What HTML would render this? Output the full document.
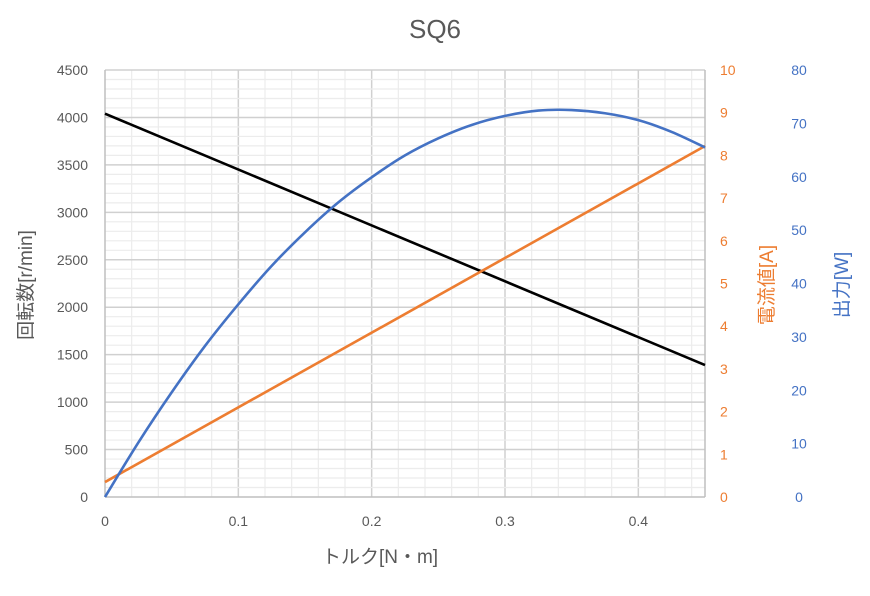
<!DOCTYPE html>
<html><head><meta charset="utf-8"><style>
body{margin:0;background:#fff;font-family:"Liberation Sans","Noto Sans CJK JP",sans-serif}
</style></head><body>
<svg id="c" width="870" height="591" xmlns="http://www.w3.org/2000/svg">
<text x="435" y="38" font-size="26" fill="#595959" text-anchor="middle">SQ6</text>
<g id="grid"></g><g id="axes"></g><g id="series"></g>
<text x="380" y="563" font-size="19" fill="#595959" text-anchor="middle">トルク[N・m]</text>
<text transform="translate(32,285) rotate(-90)" font-size="19" fill="#595959" text-anchor="middle">回転数[r/min]</text>
<text transform="translate(773,285) rotate(-90)" font-size="19" fill="#ED7D31" text-anchor="middle">電流値[A]</text>
<text transform="translate(848,285) rotate(-90)" font-size="19" fill="#4472C4" text-anchor="middle">出力[W]</text>
</svg>
<script>
const torque=[0,0.025,0.05,0.075,0.1,0.125,0.15,0.175,0.2,0.225,0.25,0.275,0.3,0.325,0.35,0.375,0.4,0.425,0.45];
const speedT=[0,0.45];
const speedV=[4040,1390];
const currentT=[0,0.45];
const currentV=[0.35,8.22];
const powerV=[0,10.2,19.6,28.3,36.1,43.3,49.6,55.2,59.9,64.0,67.2,69.7,71.4,72.4,72.5,71.9,70.6,68.4,65.5];
const xTicks=["0","0.1","0.2","0.3","0.4"];
const ySpeedTicks=[0,500,1000,1500,2000,2500,3000,3500,4000,4500];
const yCurTicks=[0,1,2,3,4,5,6,7,8,9,10];
const yPowTicks=[0,10,20,30,40,50,60,70,80];
const L=105,R=705,T=70,B=497;
const X=v=>L+v/0.45*(R-L);
const YS=v=>B-v/4500*(B-T);
const YC=v=>B-v/10*(B-T);
const YP=v=>B-v/80*(B-T);
const NS="http://www.w3.org/2000/svg";
function mk(p,tag,a){const e=document.createElementNS(NS,tag);for(const k in a)e.setAttribute(k,a[k]);p.appendChild(e);return e;}
const g=document.getElementById('grid'),ax=document.getElementById('axes'),s=document.getElementById('series');
for(let i=1;i<=22;i++){const x=X(i*0.02);if(x>R+0.5)break;
const l=mk(g,'line',{x1:x,x2:x,y1:T,y2:B,stroke:i%5==0?'#d0d0d0':'#ececec','stroke-width':i%5==0?1.5:1.2});

}
for(let i=1;i<=45;i++){const y=YS(i*100);
const l=mk(g,'line',{x1:L,x2:R,y1:y,y2:y,stroke:i%5==0?'#d0d0d0':'#ececec','stroke-width':i%5==0?1.5:1.2});

}
const xa=mk(ax,'line',{x1:L,x2:R,y1:B,y2:B,stroke:'#bfbfbf','stroke-width':1.5});

const ya=mk(ax,'line',{x1:L,x2:L,y1:T,y2:B,stroke:'#bfbfbf','stroke-width':1.5});

const ra=mk(ax,'line',{x1:R,x2:R,y1:T,y2:B,stroke:'#bfbfbf','stroke-width':1.5});

xTicks.forEach(t=>{const e=mk(ax,'text',{x:X(+t),y:B+29,'font-size':14,fill:'#595959','text-anchor':'middle'});e.textContent=t;
});
ySpeedTicks.forEach(t=>{const e=mk(ax,'text',{x:L-17,y:YS(t)+5,'font-size':14,fill:'#595959','text-anchor':'end'});e.textContent=t;
});
yCurTicks.forEach(t=>{const e=mk(ax,'text',{x:720,y:YC(t)+5,'font-size':14,fill:'#ED7D31','text-anchor':'start'});e.textContent=t;
});
yPowTicks.forEach(t=>{const e=mk(ax,'text',{x:799,y:YP(t)+5,'font-size':14,fill:'#4472C4','text-anchor':'middle'});e.textContent=t;
});
function line(xs,ys,fx,fy,col,name){const p=mk(s,'polyline',{points:xs.map((v,i)=>fx(v)+','+fy(ys[i])).join(' '),fill:'none',stroke:col,'stroke-width':2.6,'stroke-linejoin':'round'});
}
line(speedT,speedV,X,YS,'#000','speed-line');
line(currentT,currentV,X,YC,'#ED7D31','current-line');
// smooth power curve via Catmull-Rom
(function(){const pts=torque.map((t,i)=>[X(t),YP(powerV[i])]);let d='M'+pts[0];
for(let i=0;i<pts.length-1;i++){const p0=pts[Math.max(0,i-1)],p1=pts[i],p2=pts[i+1],p3=pts[Math.min(pts.length-1,i+2)];
d+=' C'+(p1[0]+(p2[0]-p0[0])/6)+','+(p1[1]+(p2[1]-p0[1])/6)+' '+(p2[0]-(p3[0]-p1[0])/6)+','+(p2[1]-(p3[1]-p1[1])/6)+' '+p2;}
const p=mk(s,'path',{d:d,fill:'none',stroke:'#4472C4','stroke-width':2.6});
})();
</script>
</body></html>
